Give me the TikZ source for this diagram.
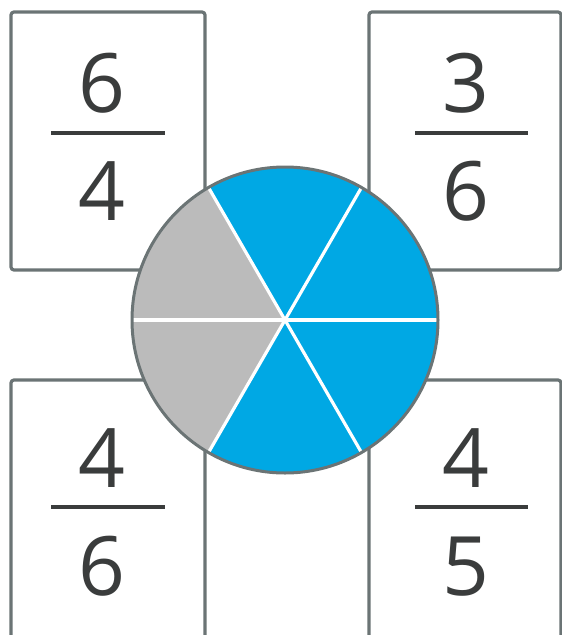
\documentclass[tikz,border=0pt]{standalone}
\usepackage{fontspec}
\setmainfont{Open Sans}
\definecolor{framegray}{HTML}{6B7475}
\definecolor{textgray}{HTML}{3A3C3C}
\definecolor{pieblue}{HTML}{00A8E4}
\definecolor{piegray}{HTML}{BBBBBB}
\tikzset{
  cardbox/.style={draw=framegray, line width=3.2pt, rounded corners=3pt, fill=white},
  digit/.style={anchor=base, inner sep=0pt, text=textgray, font=\fontsize{82}{82}\selectfont},
  fracbar/.style={draw=textgray, line width=4.2pt},
  sepline/.style={draw=white, line width=3.2pt},
  rim/.style={draw=framegray, line width=3pt}
}
\begin{document}
\begin{tikzpicture}[x=1pt,y=-1pt]
\useasboundingbox (0,0) rectangle (562,635);
% cards
\draw[cardbox] (11,12) rectangle (205,270);
\draw[cardbox] (369,12) rectangle (561,270);
\draw[cardbox] (11,380) rectangle (205,660);
\draw[cardbox] (369,380) rectangle (561,660);
% top-left 6/4
\node[digit] (tln) at (102,112) {6};
\node[digit] (tld) at (102,220) {4};
\draw[fracbar] (51,133) -- (165,133);
% top-right 3/6
\node[digit] (trn) at (466,112) {3};
\node[digit] (trd) at (466,220) {6};
\draw[fracbar] (415,133) -- (528,133);
% bottom-left 4/6
\node[digit] (bln) at (102,487) {4};
\node[digit] (bld) at (102,595) {6};
\draw[fracbar] (51,507) -- (165,507);
% bottom-right 4/5
\node[digit] (brn) at (466,487) {4};
\node[digit] (brd) at (466,595) {5};
\draw[fracbar] (415,507) -- (528,507);
% pie
\coordinate (c) at (285,320);
\def\R{153}
\foreach \a in {120,180}{
  \fill[piegray] (c) -- ++(\a:\R) arc[start angle=\a, end angle=\a+60, radius=\R] -- cycle;
}
\foreach \a in {240,300,0,60}{
  \fill[pieblue] (c) -- ++(\a:\R) arc[start angle=\a, end angle=\a+60, radius=\R] -- cycle;
}
\foreach \a in {0,60,120,180,240,300}{
  \draw[sepline] (c) -- ++(\a:\R);
}
\draw[rim] (c) circle[radius=\R];
\end{tikzpicture}
\end{document}
